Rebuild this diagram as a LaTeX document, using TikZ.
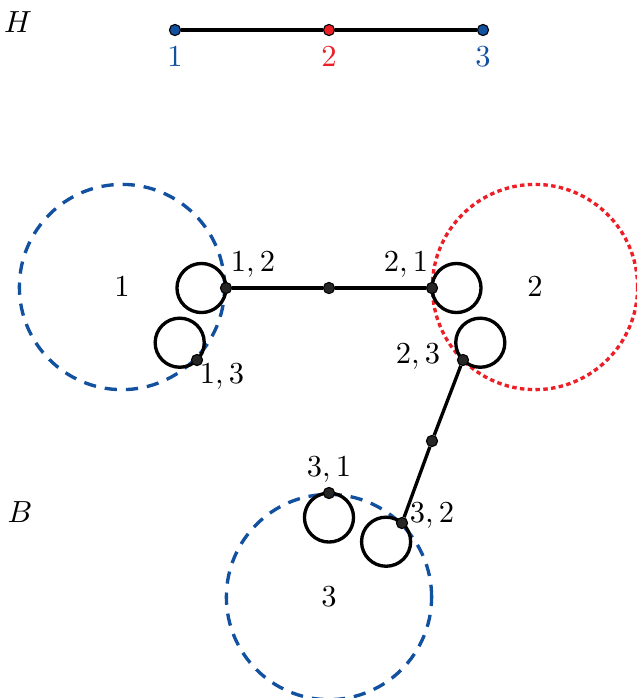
\documentclass[tikz,border=0pt]{standalone}
\usetikzlibrary{positioning}
\definecolor{vblue}{RGB}{18,80,160}
\definecolor{vred}{RGB}{236,30,38}

\begin{document}
\begin{tikzpicture}[x=0.0126cm, y=-0.0126cm,
  font=\fontsize{11}{13}\selectfont,
  dot/.style={circle, fill=black!85, draw=black, inner sep=0pt, minimum size=4pt},
  hdot/.style={circle, draw=black, line width=0.4pt, inner sep=0pt, minimum size=4pt},
  loopc/.style={draw, circle, line width=1.2pt, inner sep=0pt, minimum size=17.6pt},
  bigc/.style={circle, line width=1.2pt, inner sep=0pt, minimum size=73.6pt},
  bluedash/.style={draw=vblue, dash pattern=on 4.4pt off 3.2pt},
  reddot/.style={draw=vred, dash pattern=on 1.6pt off 1.2pt},
  edge/.style={line width=1.2pt}
]
\useasboundingbox (0,0) rectangle (637,698);

% graph H
\node (lh) at (18,22) {$H$};
\node[hdot, fill=vblue] (h1) at (175,30) {};
\node[hdot, fill=vred] (h2) at (329,30) {};
\node[hdot, fill=vblue] (h3) at (483,30) {};
\draw[edge] (h1) -- (h2) -- (h3);
\node[text=vblue] (t1) at (175,57) {$1$};
\node[text=vred] (t2) at (329,57) {$2$};
\node[text=vblue] (t3) at (483,57) {$3$};

% graph B
\node (lb) at (20,512) {$B$};
\node[bigc, bluedash] (c1) at (122,287) {$1$};
\node[bigc, reddot] (c2) at (535,287) {$2$};
\node[bigc, bluedash] (c3) at (329,597) {$3$};

\node[loopc] (o12) at (201.5,288) {};
\node[loopc] (o13) at (179.7,342.7) {};
\node[loopc] (o21) at (456.5,288) {};
\node[loopc] (o23) at (480.3,342.7) {};
\node[loopc] (o31) at (329,517.5) {};
\node[loopc] (o32) at (386.1,541.7) {};

\node[dot] (v12) at (226,288) {};
\node[dot] (v13) at (197,360) {};
\node[dot] (v21) at (432,288) {};
\node[dot] (v23) at (463,360) {};
\node[dot] (v31) at (329,493) {};
\node[dot] (v32) at (402,523) {};
\node[dot] (m1) at (329,288) {};
\node[dot] (m2) at (432,441) {};

\draw[edge] (v12) -- (m1) -- (v21);
\draw[edge] (v23) -- (m2) -- (v32);

\node (l12) at (253,265) {$1,2$};
\node (l21) at (406,265) {$2,1$};
\node (l13) at (222,377) {$1,3$};
\node (l23) at (418,357) {$2,3$};
\node (l31) at (329,470) {$3,1$};
\node (l32) at (432,516) {$3,2$};
\end{tikzpicture}
\end{document}
